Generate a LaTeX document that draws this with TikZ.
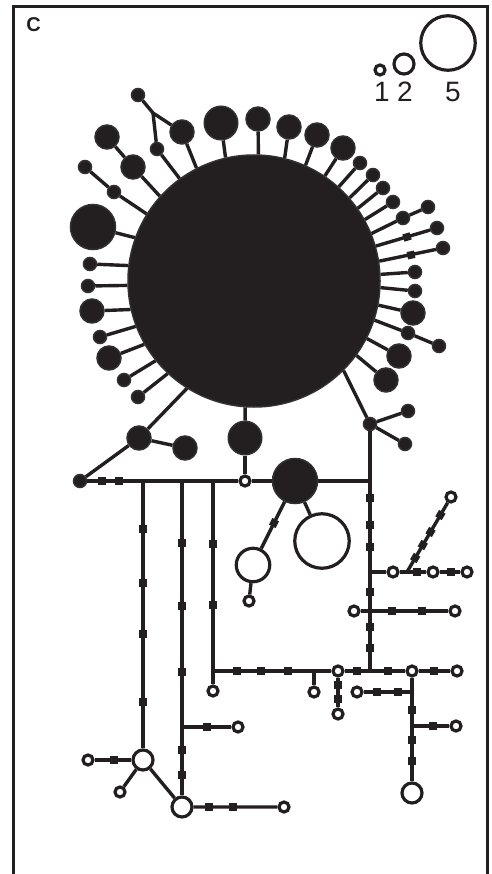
\documentclass[tikz,border=0pt]{standalone}
\usepackage{fontspec}
\setmainfont{Liberation Sans}
\definecolor{ink}{RGB}{35,31,32}
\definecolor{rim}{RGB}{50,48,49}
\begin{document}
\begin{tikzpicture}[x=1pt,y=-1pt,
  ln/.style={draw=ink,line width=3.4pt},
  bk/.style={circle,fill=ink,draw=rim,line width=1.5pt,inner sep=0pt},
  bs/.style={bk,minimum size=13pt},
  bm/.style={bk,minimum size=24pt},
  bl/.style={bk,minimum size=33.5pt},
  bx/.style={bk,minimum size=45pt},
  big/.style={bk,minimum size=252pt},
  wt/.style={circle,fill=white,draw=ink,line width=3.2pt,inner sep=0pt},
  ws/.style={wt,minimum size=10pt},
  wm/.style={wt,minimum size=20pt},
  wl/.style={wt,minimum size=33.5pt},
  wx/.style={wt,minimum size=54.5pt},
  legtxt/.style={font=\fontsize{28}{28}\selectfont,text=ink,inner sep=0pt},
  tick/.style={rectangle,fill=ink,inner sep=0pt,minimum size=7.5pt}]
\useasboundingbox (0,0) rectangle (491,874);
\fill[white] (0,0) rectangle (491,874);
\draw[ink,line width=3pt] (13,878) -- (13,7) -- (487,7) -- (487,878);
\node[font=\bfseries\fontsize{20}{20}\selectfont,text=ink,inner sep=0pt] (lab) at (33.5,25) {C};
% legend
\node[ws] (l1) at (380,70) {};
\node[wm] (l2) at (404,64) {};
\node[wx] (l5) at (448,43) {};
\node[legtxt] (n1) at (382,92) {1};
\node[legtxt] (n2) at (405,92) {2};
\node[legtxt] (n5) at (453,92) {5};
% central haplotype
\node[big] (big) at (254,281) {};
% satellites left/top-left
\node[bs] (s1) at (138,95) {};
\coordinate (j1) at (153,113);
\node[bm] (s2) at (182,132) {};
\node[bs] (s3) at (157,149) {};
\node[bm] (s4) at (107,137) {};
\node[bm] (s5) at (133,167) {};
\node[bs] (s6) at (85,167) {};
\node[bs] (s7) at (114,192) {};
\node[bx] (s8) at (93,227) {};
\node[bs] (s9) at (90,264) {};
\node[bs] (s10) at (88,286) {};
\node[bm] (s11) at (92,311) {};
\node[bs] (s12) at (100,337) {};
\node[bm] (s13) at (109,358) {};
\node[bs] (s14) at (124,380) {};
\node[bs] (s15) at (138,397) {};
\node[bm] (s16) at (139,438) {};
\node[bm] (s17) at (185,448) {};
\node[bl] (s18) at (245,438) {};
\node[bs] (s19) at (80,481) {};
% top arc and right
\node[bl] (t1) at (221,123) {};
\node[bm] (t2) at (258,119) {};
\node[bm] (t3) at (289,127) {};
\node[bm] (t4) at (317,135) {};
\node[bm] (t5) at (343,148) {};
\node[bs] (t6) at (360,163) {};
\node[bs] (t7) at (373,175) {};
\node[bs] (t8) at (383,188) {};
\node[bs] (t9) at (393,202) {};
\node[bs] (t10) at (403,218) {};
\node[bs] (t10b) at (428,207) {};
\node[bs] (t11) at (437,228) {};
\node[bs] (t12) at (443,248) {};
\node[bs] (t13) at (415,272) {};
\node[bs] (t14) at (415,291) {};
\node[bm] (t15) at (413,313) {};
\node[bs] (t16) at (408,333) {};
\node[bs] (t16b) at (439,346) {};
\node[bm] (t17) at (399,356) {};
\node[bm] (t18) at (386,380) {};
\node[bs] (jn) at (370,424) {};
\node[bs] (jn1) at (408,411) {};
\node[bs] (jn2) at (405,444) {};
% lower network
\node[ws] (w245) at (245,481) {};
\node[bx] (B) at (295,481) {};
\node[wl] (w253) at (253,565) {};
\node[ws] (w249) at (249,601) {};
\node[wx] (w322) at (322,541) {};
\coordinate (h143) at (143,481);
\coordinate (h182) at (182,481);
\coordinate (h213) at (213,481);
\coordinate (h370) at (370,481);
\coordinate (c572) at (370,572);
\coordinate (c611) at (370,611);
\coordinate (c671) at (370,671);
\coordinate (d407) at (407,572);
\node[ws] (w393) at (393,572) {};
\node[ws] (w433) at (433,572) {};
\node[ws] (w467) at (467,572) {};
\node[ws] (w451) at (451,497) {};
\node[ws] (w354) at (354,611) {};
\node[ws] (w455) at (455,611) {};
\coordinate (h213c) at (213,671);
\coordinate (c314) at (314,671);
\node[ws] (w314) at (314,692) {};
\node[ws] (w338) at (338,671) {};
\node[ws] (w338b) at (338,714) {};
\node[ws] (w412) at (412,671) {};
\node[ws] (w457) at (457,671) {};
\coordinate (c692) at (412,692);
\coordinate (c726) at (412,726);
\node[ws] (w357) at (357,692) {};
\node[ws] (w456) at (456,726) {};
\node[wm] (w412b) at (412,793) {};
\node[ws] (w213) at (213,691) {};
\coordinate (c727) at (182,727);
\node[ws] (w238) at (238,727) {};
\node[wm] (w144) at (143,760) {};
\node[ws] (w88) at (88,760) {};
\node[ws] (w120) at (120,792) {};
\node[wm] (w182) at (182,807) {};
\node[ws] (w284) at (284,807) {};
% connectors to central circle
\draw[ln] (s1) -- (j1) -- (s2);
\draw[ln] (j1) -- (s3);
\draw[ln] (s2) -- (big.117);
\draw[ln] (s3) -- (big.126.4);
\draw[ln] (s4) -- (s5) -- (big.138.1);
\draw[ln] (s6) -- (s7) -- (big.148.5);
\draw[ln] (s8) -- (big.160.9);
\draw[ln] (s9) -- (big.173.3);
\draw[ln] (s10) -- (big.182);
\draw[ln] (s11) -- (big.193.4);
\draw[ln] (s12) -- (big.201.2);
\draw[ln] (s13) -- (big.210.1);
\draw[ln] (s14) -- (big.219.1);
\draw[ln] (s15) -- (big.227.2);
\draw[ln] (s16) -- (big.238.9);
\draw[ln] (s16) -- (s17);
\draw[ln] (s16) -- (s19);
\draw[ln] (s18) -- (big.266);
\draw[ln] (t1) -- (big.103.4);
\draw[ln] (t2) -- (big.88.2);
\draw[ln] (t3) -- (big.76.5);
\draw[ln] (t4) -- (big.66.4);
\draw[ln] (t5) -- (big.56.3);
\draw[ln] (t6) -- (big.48.1);
\draw[ln] (t7) -- (big.41.7);
\draw[ln] (t8) -- (big.35.8);
\draw[ln] (t9) -- (big.29.6);
\draw[ln] (t10b) -- (t10) -- (big.22.9);
\draw[ln] (t11) -- (big.16);
\draw[ln] (t12) -- (big.9);
\draw[ln] (t13) -- (big.3.2);
\draw[ln] (t14) -- (big.-3.6);
\draw[ln] (t15) -- (big.-11.4);
\draw[ln] (t16b) -- (t16) -- (big.-18.7);
\draw[ln] (t17) -- (big.-27.4);
\draw[ln] (t18) -- (big.-36.9);
\draw[ln] (jn) -- (big.-45.6);
\draw[ln] (jn) -- (jn1);
\draw[ln] (jn) -- (jn2);
% lower network connectors
\draw[ln] (s19) -- (w245) -- (s18);
\draw[ln] (w245) -- (B) -- (h370);
\draw[ln] (jn) -- (h370) -- (c572) -- (c611) -- (c671);
\draw[ln] (B) -- (w253) -- (w249);
\draw[ln] (B) -- (w322);
\draw[ln] (c572) -- (w393) -- (w433) -- (w467);
\draw[ln] (d407) -- (w451);
\draw[ln] (w354) -- (w455);
\draw[ln] (h213) -- (h213c) -- (w213);
\draw[ln] (h213c) -- (c314) -- (w338) -- (w412) -- (w457);
\draw[ln] (c314) -- (w314);
\draw[ln] (w338) -- (w338b);
\draw[ln] (w412) -- (c692) -- (c726) -- (w412b);
\draw[ln] (c692) -- (w357);
\draw[ln] (c726) -- (w456);
\draw[ln] (h143) -- (w144);
\draw[ln] (h182) -- (c727) -- (w182);
\draw[ln] (c727) -- (w238);
\draw[ln] (w144) -- (w88);
\draw[ln] (w144) -- (w120);
\draw[ln] (w144) -- (w182) -- (w284);
% mutation ticks
\foreach \x in {102,119} \node[tick] at (\x,481) {};
\foreach \y in {529,583,634,702} \node[tick] at (143,\y) {};
\foreach \y in {543,606,672,750,775} \node[tick] at (182,\y) {};
\foreach \y in {544,605} \node[tick] at (213,\y) {};
\foreach \x in {237,261,288,357,388,434} \node[tick] at (\x,671) {};
\foreach \y in {685,699} \node[tick] at (338,\y) {};
\foreach \y in {710,740,761} \node[tick] at (412,\y) {};
\foreach \x in {377,398} \node[tick] at (\x,692) {};
\node[tick] at (433,726) {};
\node[tick] at (207,727) {};
\node[tick] at (114,760) {};
\foreach \x in {209,233} \node[tick] at (\x,807) {};
\foreach \y in {498,525,547,592,627,648} \node[tick] at (370,\y) {};
\foreach \x in {417,451} \node[tick] at (\x,572) {};
\foreach \x in {392,422} \node[tick] at (\x,611) {};
\foreach \p in {(415.2,558),(422.8,545),(430.5,532),(440.4,515)} \node[tick,rotate=59.6] at \p {};
\node[tick,rotate=63.4] at (274,523) {};
\node[tick,rotate=16.7] at (407,237) {};
\node[tick,rotate=12.3] at (411,255) {};
\end{tikzpicture}
\end{document}
